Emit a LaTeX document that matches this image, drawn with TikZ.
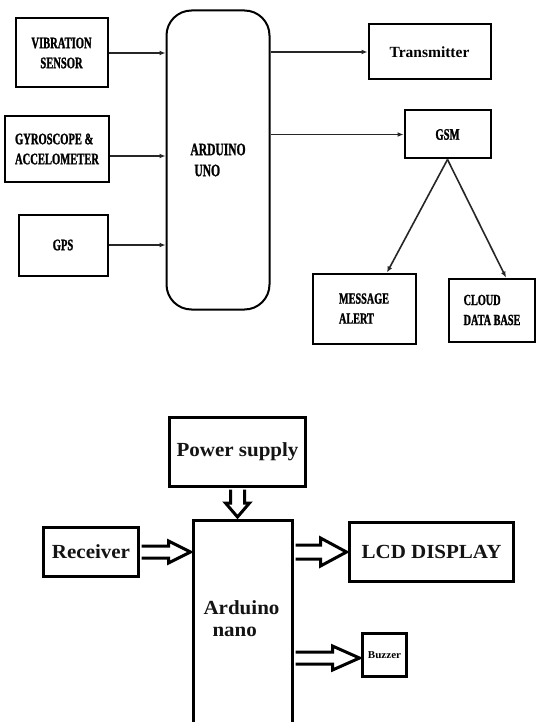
\documentclass[tikz,border=0pt]{standalone}
\usepackage{fontspec}
\setmainfont{Liberation Serif}
\newfontfamily\condf[FakeStretch=0.66, FakeBold=1.3]{Liberation Serif Bold}
\newfontfamily\widef[FakeStretch=1.05]{Liberation Serif Bold}
\usetikzlibrary{arrows.meta,calc}
\tikzset{
  tbox/.style 2 args={draw=black, line width=2pt, inner sep=0pt,
    minimum width=#1, minimum height=#2},
  ctext/.style={font=\condf\fontsize{16}{20}\selectfont},
  tarr/.style={draw=black!85, line width=1.6pt, -{Latex[length=6pt,width=5pt]}},
  bbox/.style 2 args={draw=black, line width=3pt, inner sep=0pt,
    minimum width=#1, minimum height=#2},
  wtext/.style={font=\widef\fontsize{20}{22}\selectfont, text=black!92},
  blk/.style={draw=black, line width=3pt, fill=white, line join=miter},
}
% horizontal hollow arrow: #1 start, #2 end (same y), #3 shaft half, #4 head half, #5 head length
\newcommand\hollowH[5]{%
  \draw[blk] let \p1=(#1), \p2=(#2) in
    ({\x1+1.5pt},{\y1+#3}) -- ({\x2-1.5pt-#5},{\y1+#3}) -- ({\x2-1.5pt-#5},{\y1+#4})
    -- ({\x2-1.5pt},{\y1}) -- ({\x2-1.5pt-#5},{\y1-#4}) -- ({\x2-1.5pt-#5},{\y1-#3})
    -- ({\x1+1.5pt},{\y1-#3});}
% vertical (downward) hollow arrow
\newcommand\hollowV[5]{%
  \draw[blk] let \p1=(#1), \p2=(#2) in
    ({\x1+#3},{\y1-1.5pt}) -- ({\x1+#3},{\y2+1.5pt+#5}) -- ({\x1+#4},{\y2+1.5pt+#5})
    -- ({\x1},{\y2+1.5pt}) -- ({\x1-#4},{\y2+1.5pt+#5}) -- ({\x1-#3},{\y2+1.5pt+#5})
    -- ({\x1-#3},{\y1-1.5pt});}
\begin{document}
\begin{tikzpicture}[x=1pt,y=-1pt]
\useasboundingbox (0,0) rectangle (537,722);
\clip (0,0) rectangle (537,722);
\fill[white] (0,0) rectangle (537,722);

% ---------- top diagram ----------
\node[tbox={92pt}{69pt}, ctext, align=center] (vib) at (61.5,53) {VIBRATION\\SENSOR};
\node[tbox={104pt}{66pt}, ctext, align=left] (gyro) at (57,149) {GYROSCOPE \&\\ACCELOMETER};
\node[tbox={89pt}{61pt}, ctext] (gps) at (63,245) {GPS};
\node[tbox={103pt}{299pt}, rounded corners=25pt, align=left,
      font=\condf\fontsize{17.5}{21}\selectfont] (uno) at (218,160) {ARDUINO\\\hspace*{4pt}UNO};
\node[tbox={122pt}{55pt}, font=\bfseries\fontsize{15.5}{18}\selectfont] (tx) at (429.5,52) {Transmitter};
\node[tbox={86pt}{48pt}, ctext] (gsm) at (447.5,134.5) {GSM};
\node[tbox={103pt}{70pt}, align=left,
      font=\condf\fontsize{15.5}{20}\selectfont] (msg) at (364,308.5) {MESSAGE\\ALERT};
\node[tbox={86pt}{63pt}, align=left,
      font=\condf\fontsize{15.5}{20}\selectfont] (cloud) at (492,310) {CLOUD\\DATA BASE};

\draw[tarr] (vib.east) -- (vib.east -| uno.west);
\draw[tarr] ([yshift=-7pt]gyro.east) -- ([yshift=-7pt]gyro.east -| uno.west);
\draw[tarr] (gps.east) -- (gps.east -| uno.west);
\draw[tarr] (uno.east |- tx.west) -- (tx.west);
\draw[tarr] (uno.east |- gsm.west) -- (gsm.west);
\draw[tarr] (gsm.south) -- ([xshift=23pt]msg.north);
\draw[tarr] (gsm.south) -- ([xshift=14pt]cloud.north);

% ---------- bottom diagram ----------
\node[bbox={136pt}{69pt}, wtext] (ps) at (237.5,452) {Power supply};
\node[bbox={99pt}{240pt}] (nano) at (243,640) {};
\node[wtext, align=left] (nanolbl) at (241.5,619) {Arduino\\\hspace*{9pt}nano};
\node[bbox={95pt}{49pt}, wtext] (rec) at (91,552) {Receiver};
\node[bbox={164pt}{59pt}, wtext] (lcd) at (431.5,552) {LCD DISPLAY};
\node[bbox={44pt}{43pt}, font=\widef\fontsize{10.5}{12}\selectfont] (buz) at (384.5,655) {Buzzer};
\coordinate (bzin) at ([yshift=-3pt]buz.west);

\hollowV{ps.south}{nano.north}{7pt}{12pt}{14pt}
\hollowH{rec.east}{rec.east -| nano.west}{6pt}{11pt}{22pt}
\hollowH{nano.east |- lcd.west}{lcd.west}{7pt}{14pt}{26pt}
\hollowH{nano.east |- bzin}{bzin}{6pt}{12pt}{27pt}
\end{tikzpicture}
\end{document}
